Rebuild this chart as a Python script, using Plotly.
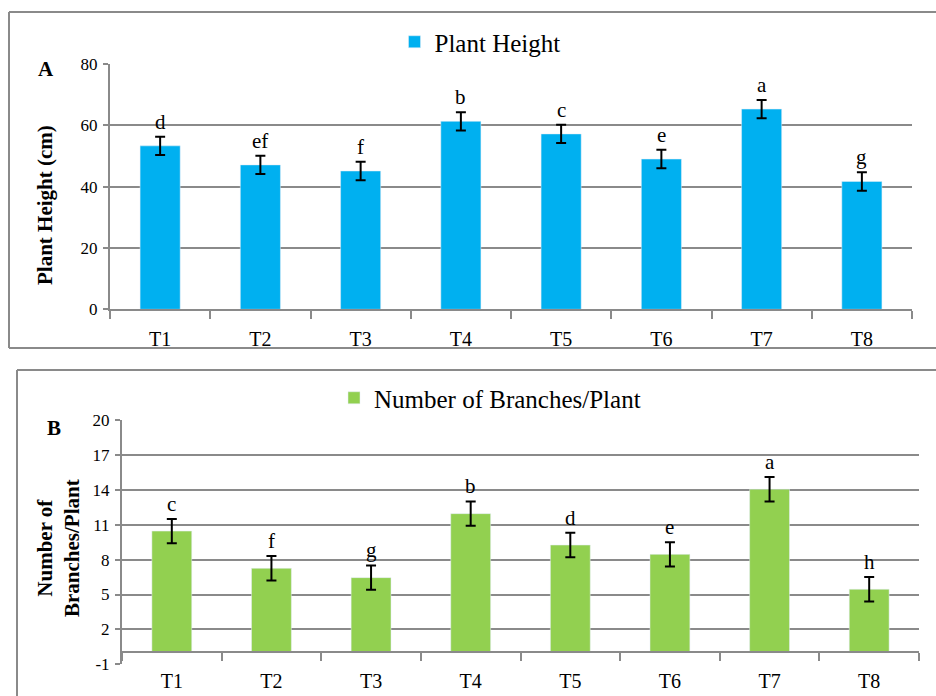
import plotly.graph_objects as go

treatments = ["T1", "T2", "T3", "T4", "T5", "T6", "T7", "T8"]

height = [53.3, 47.1, 45.1, 61.3, 57.2, 49.0, 65.3, 41.7]
height_err = [3.0, 3.0, 3.0, 3.0, 3.0, 3.0, 3.0, 3.0]
height_letters = ["d", "ef", "f", "b", "c", "e", "a", "g"]

branches = [10.45, 7.25, 6.45, 11.95, 9.25, 8.45, 14.05, 5.45]
branches_err = [1.05, 1.05, 1.05, 1.05, 1.05, 1.05, 1.05, 1.05]
branches_letters = ["c", "f", "g", "b", "d", "e", "a", "h"]

height_ticks = [0, 20, 40, 60, 80]
height_tick_labels = ["0", "20", "40", "60", "80"]
branch_ticks = [-1, 2, 5, 8, 11, 14, 17, 20]
branch_tick_labels = ["-1", "2", "5", "8", "11", "14", "17", "20"]

W, H = 936, 696
FONT = "Liberation Serif"
GRID = "#8a8a8a"
BLUE = "#00B0F0"
GREEN = "#92D050"


def px(x):
    return x / W


def py(y):
    return 1 - y / H


fig = go.Figure()
fig.add_trace(go.Bar(
    x=treatments, y=height, name="Plant Height", marker_color=BLUE,
    width=0.4, xaxis="x", yaxis="y", legend="legend",
    error_y=dict(type="data", array=height_err, color="black", thickness=2, width=5),
))
fig.add_trace(go.Bar(
    x=treatments, y=branches, name="Number of Branches/Plant", marker_color=GREEN,
    width=0.4, xaxis="x2", yaxis="y2", legend="legend2",
    error_y=dict(type="data", array=branches_err, color="black", thickness=2, width=5),
))

annotations = []
for t, v, e, l in zip(treatments, height, height_err, height_letters):
    annotations.append(dict(x=t, y=v + e, xref="x", yref="y", text=l, showarrow=False,
                            xanchor="center", yanchor="bottom", yshift=1,
                            font=dict(family=FONT, size=21, color="black")))
for t, v, e, l in zip(treatments, branches, branches_err, branches_letters):
    annotations.append(dict(x=t, y=v + e, xref="x2", yref="y2", text=l, showarrow=False,
                            xanchor="center", yanchor="bottom", yshift=1,
                            font=dict(family=FONT, size=21, color="black")))

annotations += [
    dict(x=px(46), y=py(69), xref="paper", yref="paper", text="<b>A</b>", showarrow=False,
         xanchor="center", yanchor="middle", font=dict(family=FONT, size=21, color="black")),
    dict(x=px(54), y=py(428), xref="paper", yref="paper", text="<b>B</b>", showarrow=False,
         xanchor="center", yanchor="middle", font=dict(family=FONT, size=21, color="black")),
    dict(x=px(45), y=py(205), xref="paper", yref="paper", text="<b>Plant Height (cm)</b>",
         showarrow=False, textangle=-90, xanchor="center", yanchor="middle",
         font=dict(family=FONT, size=21, color="black")),
    dict(x=px(58), y=py(548), xref="paper", yref="paper", text="<b>Number of<br>Branches/Plant</b>",
         showarrow=False, textangle=-90, xanchor="center", yanchor="middle",
         font=dict(family=FONT, size=21, color="black")),
]

border = dict(color=GRID, width=2)
shapes = [
    # panel A frame (left, top, bottom; right edge runs off the page)
    dict(type="line", xref="paper", yref="paper", x0=px(9), x1=px(9), y0=py(348), y1=py(12), line=border),
    dict(type="line", xref="paper", yref="paper", x0=px(9), x1=px(960), y0=py(12), y1=py(12), line=border),
    dict(type="line", xref="paper", yref="paper", x0=px(9), x1=px(960), y0=py(348), y1=py(348), line=border),
    # panel B frame (left, top; right and bottom run off the page)
    dict(type="line", xref="paper", yref="paper", x0=px(17), x1=px(17), y0=py(720), y1=py(370), line=border),
    dict(type="line", xref="paper", yref="paper", x0=px(17), x1=px(960), y0=py(370), y1=py(370), line=border),
]

xcommon = dict(type="category", showline=True, linecolor=GRID, linewidth=2, ticks="outside",
               tickson="boundaries", ticklen=8, tickcolor=GRID, tickwidth=2, showgrid=False,
               automargin=False,
               tickfont=dict(family=FONT, size=20, color="black"), ticklabelstandoff=11)
ycommon = dict(showgrid=True, gridcolor=GRID, gridwidth=2, showline=True, linecolor=GRID,
               linewidth=2, ticks="outside", ticklen=5, tickcolor=GRID, tickwidth=2,
               zeroline=False, automargin=False, tickmode="array", ticklabelstandoff=2,
               tickfont=dict(family=FONT, size=17, color="black"))

fig.update_layout(
    width=W, height=H, autosize=False,
    margin=dict(l=0, r=0, t=0, b=0, pad=0),
    paper_bgcolor="white", plot_bgcolor="white",
    font=dict(family=FONT, color="black"),
    bargap=0.6,
    xaxis=dict(domain=[px(110), px(912)], anchor="y", **xcommon),
    yaxis=dict(domain=[py(309.3), py(64)], anchor="x", range=[0, 80],
               tickvals=height_ticks, ticktext=height_tick_labels, **ycommon),
    xaxis2=dict(domain=[px(122), px(919)], anchor="free", position=py(652.3), **xcommon),
    yaxis2=dict(domain=[py(664.3), py(420)], anchor="x2", range=[-1, 20],
                tickvals=branch_ticks, ticktext=branch_tick_labels, **ycommon),
    legend=dict(x=px(480), y=py(42), xanchor="center", yanchor="middle", orientation="h",
                itemwidth=30, font=dict(family=FONT, size=25, color="black"),
                bgcolor="rgba(0,0,0,0)"),
    legend2=dict(x=px(490), y=py(398), xanchor="center", yanchor="middle", orientation="h",
                 itemwidth=30, font=dict(family=FONT, size=25, color="black"),
                 bgcolor="rgba(0,0,0,0)"),
    annotations=annotations,
    shapes=shapes,
    showlegend=True,
)

fig.write_html(
    "out.html",
    config={"displayModeBar": False},
    post_script="document.body.style.margin='0';document.body.style.overflow='hidden';",
)
